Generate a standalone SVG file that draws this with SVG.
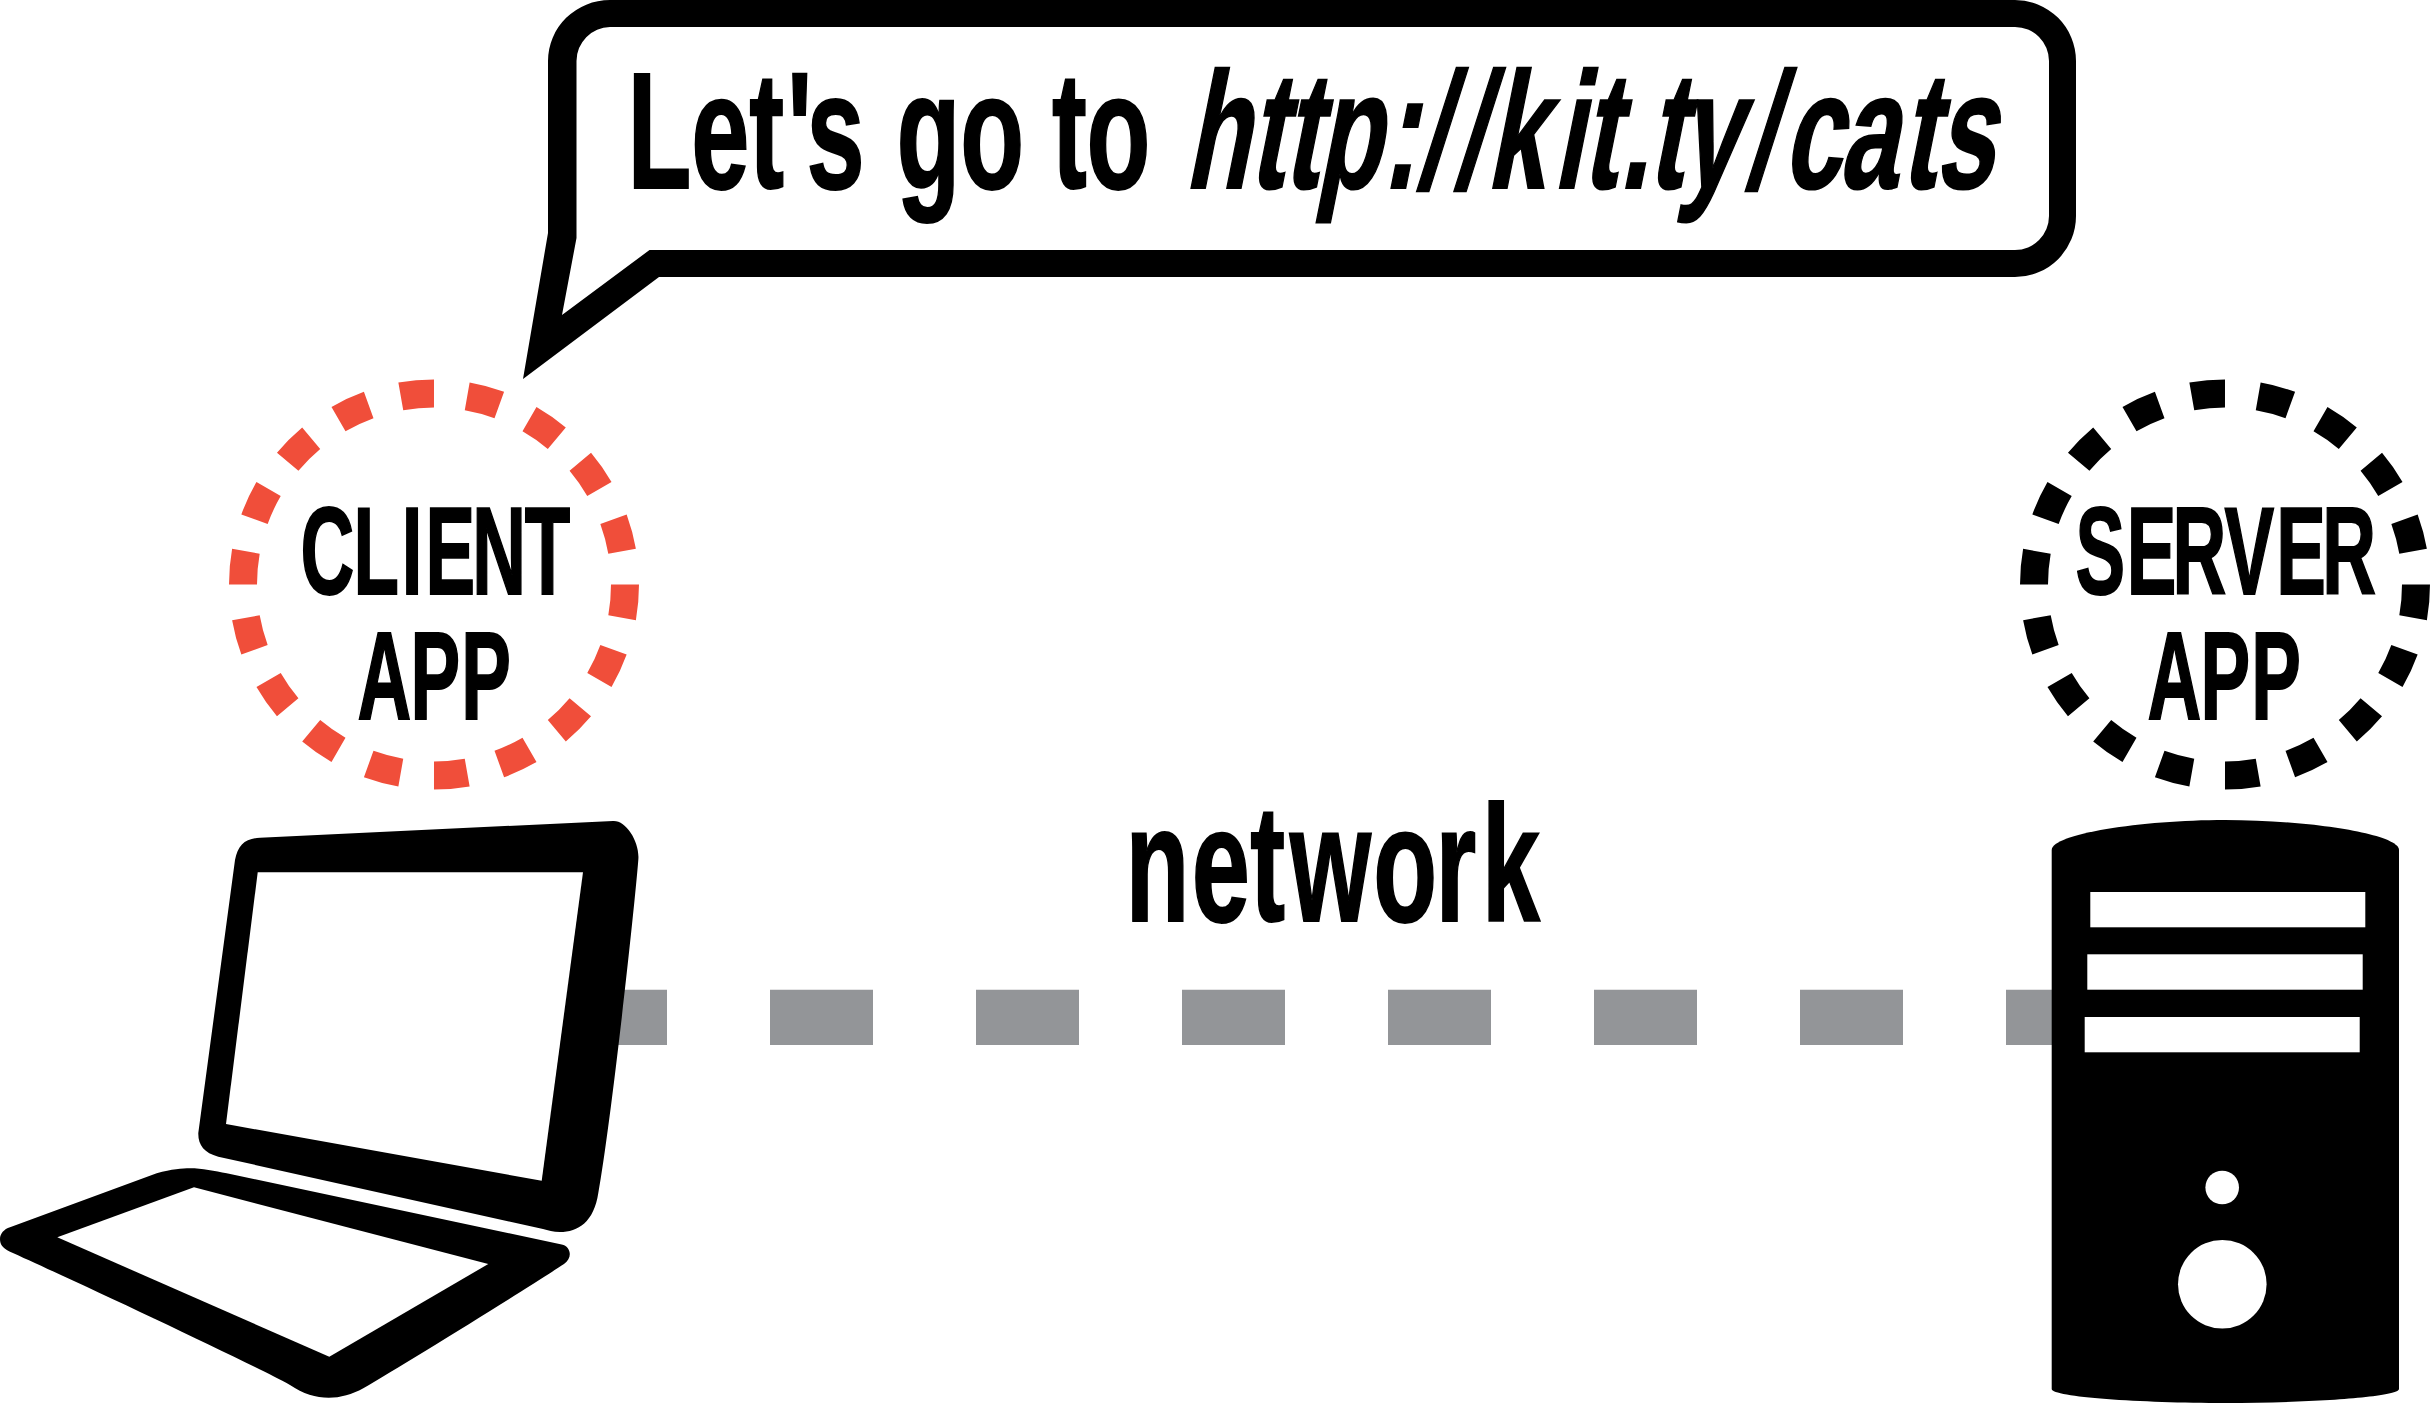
<svg xmlns="http://www.w3.org/2000/svg" width="2430" height="1403" viewBox="0 0 2430 1403">
  <style>
    text { font-family: "Liberation Sans", Arial, sans-serif; font-weight: 700; fill: #000; stroke: #000; }
    .big { font-size: 166px; stroke-width: 2; }
    .mid { font-size: 124px; stroke-width: 2; }
    .ring { fill: none; stroke-width: 28; }
    .ink { fill: #000; }
    .hole { fill: #fff; }
  </style>
  <defs>
    <path id="ring" d="M191 0A191 191 0 0 1 188.1 33.2M179.5 65.3A191 191 0 0 1 165.4 95.5M146.3 122.8A191 191 0 0 1 122.8 146.3M95.5 165.4A191 191 0 0 1 65.3 179.5M33.2 188.1A191 191 0 0 1 0 191M-33.2 188.1A191 191 0 0 1 -65.3 179.5M-95.5 165.4A191 191 0 0 1 -122.8 146.3M-146.3 122.8A191 191 0 0 1 -165.4 95.5M-179.5 65.3A191 191 0 0 1 -188.1 33.2M-191 0A191 191 0 0 1 -188.1 -33.2M-179.5 -65.3A191 191 0 0 1 -165.4 -95.5M-146.3 -122.8A191 191 0 0 1 -122.8 -146.3M-95.5 -165.4A191 191 0 0 1 -65.3 -179.5M-33.2 -188.1A191 191 0 0 1 0 -191M33.2 -188.1A191 191 0 0 1 65.3 -179.5M95.5 -165.4A191 191 0 0 1 122.8 -146.3M146.3 -122.8A191 191 0 0 1 165.4 -95.5M179.5 -65.3A191 191 0 0 1 188.1 -33.2"/>
  </defs>
  <rect width="2430" height="1403" fill="#fff"/>
  <g id="connectors">
    <line id="network-link" x1="564" y1="1017.4" x2="2100" y2="1017.4" stroke="#939598" stroke-width="55.3" stroke-dasharray="103 103"/>
  </g>
  <g id="speech-bubble">
    <path class="ink" fill-rule="evenodd" d="M610 0H2015A61 61 0 0 1 2076 61V216A61 61 0 0 1 2015 277H659L523 379L548 233V61A62 61 0 0 1 610 0ZM610 27A34 34 0 0 0 576.5 61V238L562 315L649.5 250H2015A34 34 0 0 0 2049 216V61A34 34 0 0 0 2015 27Z"/>
    <text class="big" y="188" transform="scale(.63 1)" x="996.2 1097.3 1189.2 1249.6 1280.3 1400 1423.1 1524.4 1650 1669.8 1724.6">Let's go to</text>
    <text class="big" y="188" transform="matrix(.63 0 -.2 1 37.6 0)" x="1878.9 1981.3 2036.2 2088.6 2191.9 2248.1 2307.3 2357.8 2463.8 2510.3 2569.5 2614.8 2665.1 2769.5 2828.6 2917.6 3016.2 3070.6">http://kit.ty/cats</text>
  </g>
  <g id="client-app">
    <use href="#ring" class="ring" transform="translate(434 584.5)" stroke="#F04E3A"/>
    <text class="mid" y="594" transform="scale(.6 1)" x="501 589.3 669.4 709.3 787 874.6">CLIENT</text>
    <text class="mid" y="719" transform="scale(.6 1)" x="595.8 684.3 768.8">APP</text>
  </g>
  <g id="server-app">
    <use href="#ring" class="ring" transform="translate(2225 584.5)" stroke="#000"/>
    <text class="mid" y="594" transform="scale(.6 1)" x="3459.2 3544.8 3621 3707.5 3793.8 3870.5">SERVER</text>
    <text class="mid" y="719" transform="scale(.6 1)" x="3579.2 3667.7 3752.2">APP</text>
  </g>
  <g id="network-label">
    <text class="big" y="921" transform="scale(.63 1)" x="1786.6 1891.6 1984.6 2047.3 2179.7 2278.4 2351.9">network</text>
  </g>
  <g id="laptop">
    <path class="ink" d="M260 837.7L613 821C626 820 640 842 638.3 860C634 915 610 1130 598.3 1193C594 1222 578 1232 560 1232C553 1232 548 1230 543 1229L218.3 1156.7C204 1153 198 1145 198.3 1133L235 860C238 845 245 838.6 260 837.7Z"/>
    <polygon class="hole" points="257.7,872.3 583,872.3 541.7,1180.7 226,1124"/>
    <path class="ink" d="M10 1227.3L156.7 1173.3C172 1169 182 1168.3 190 1168.3C202 1168.3 215 1171 226.7 1173.3L561.7 1244.5C571 1246.5 573 1258 564 1264C520 1293 400 1367 363.3 1388.3C340 1401 315 1402 290 1385C240 1358 60 1274 10 1251.7C2 1248 0 1244 0 1239C0 1234 4 1229 10 1227.3Z"/>
    <polygon class="hole" points="57.3,1237.3 194,1187.3 488.3,1264 329.3,1356.7"/>
  </g>
  <g id="server">
    <path class="ink" d="M2051.7 850C2051.7 834 2140 820 2225 820C2310 820 2399 834 2399 850V1389C2399 1397 2310 1403 2225 1403C2140 1403 2051.7 1397 2051.7 1389Z"/>
    <rect class="hole" x="2090.3" y="892" width="275" height="35.3"/>
    <rect class="hole" x="2087.3" y="954.3" width="275.4" height="35.4"/>
    <rect class="hole" x="2084.7" y="1017" width="275" height="35.3"/>
    <circle class="hole" cx="2222.2" cy="1187.5" r="16.8"/>
    <circle class="hole" cx="2222.3" cy="1284.3" r="44.3"/>
  </g>
</svg>
